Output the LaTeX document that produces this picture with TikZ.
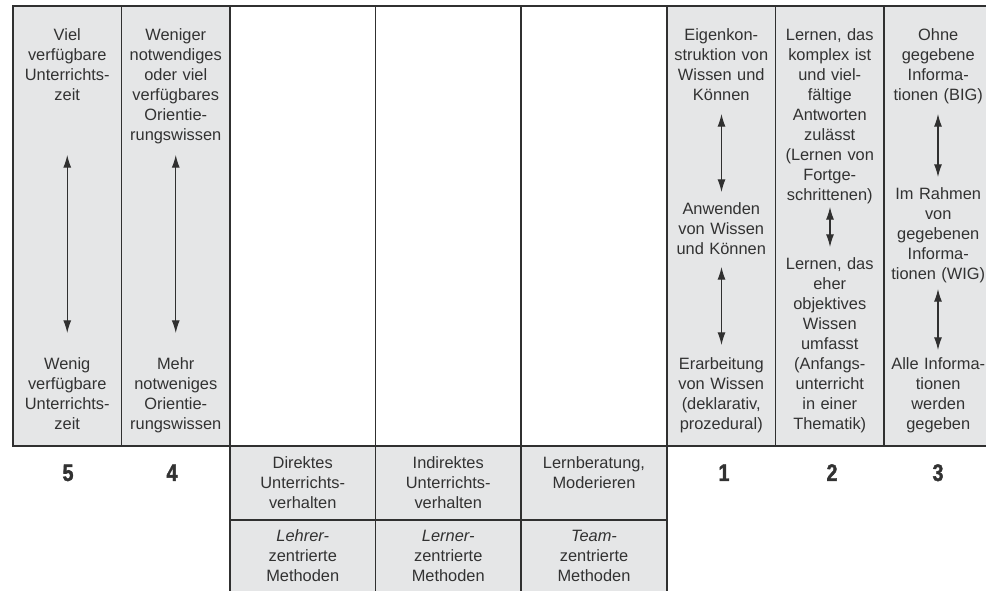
\documentclass[tikz,border=0pt]{standalone}
\usepackage{fontspec}
\setmainfont{Liberation Sans}
\newfontfamily\numfont{Liberation Sans}[FakeStretch=0.82,FakeBold=1.6]
\usetikzlibrary{arrows.meta}
\definecolor{cellgray}{HTML}{E5E6E7}
\definecolor{ink}{HTML}{303030}
\definecolor{txt}{HTML}{323232}

\begin{document}
\begin{tikzpicture}[x=0.75pt,y=-0.75pt,
  cell/.style={draw=ink,line width=1pt,fill=cellgray},
  blank/.style={draw=ink,line width=1pt},
  lbl/.style={anchor=base,inner sep=0pt,text width=78pt,align=center,
    font=\fontsize{12.3}{15}\selectfont,text=txt},
  num/.style={anchor=base,inner sep=0pt,
    font=\numfont\bfseries\fontsize{18}{20}\selectfont,text=txt},
  dbl/.style={{Latex[length=9.5pt,width=6pt]}-{Latex[length=9.5pt,width=6pt]},
    line width=0.85pt,draw=ink}
]
\useasboundingbox (0,0) rectangle (986,591);
\clip (0,0) rectangle (986,591);

% upper row: grey side blocks, white middle columns
\draw[cell] (13,6) rectangle (121.5,446);
\draw[cell] (121.5,6) rectangle (230,446);
\draw[blank] (230,6) rectangle (375.5,446);
\draw[blank] (375.5,6) rectangle (521,446);
\draw[blank] (521,6) rectangle (667,446);
\draw[cell] (667,6) rectangle (775.5,446);
\draw[cell] (775.5,6) rectangle (884,446);
\draw[cell] (884,6) rectangle (992.5,446);

% lower row: teaching behaviour and method boxes
\draw[cell] (230,446) rectangle (375.5,520);
\draw[cell] (375.5,446) rectangle (521,520);
\draw[cell] (521,446) rectangle (667,520);
\draw[cell] (230,520) rectangle (375.5,600);
\draw[cell] (375.5,520) rectangle (521,600);
\draw[cell] (521,520) rectangle (667,600);

% column 5
\node[lbl] (c5top) at (67.25,41) {Viel\\verfügbare\\Unterrichts-\\zeit};
\node[lbl] (c5bot) at (67.25,370) {Wenig\\verfügbare\\Unterrichts-\\zeit};
% column 4
\node[lbl] (c4top) at (175.75,41) {Weniger\\notwendiges\\oder viel\\verfügbares\\Orientie-\\rungswissen};
\node[lbl] (c4bot) at (175.75,370) {Mehr\\notweniges\\Orientie-\\rungswissen};
% column 1
\node[lbl] (c1top) at (721.25,41) {Eigenkon-\\struktion von\\Wissen und\\Können};
\node[lbl] (c1mid) at (721.25,215) {Anwenden\\von Wissen\\und Können};
\node[lbl] (c1bot) at (721.25,370) {Erarbeitung\\von Wissen\\(deklarativ,\\prozedural)};
% column 2
\node[lbl] (c2top) at (829.75,41) {Lernen, das\\komplex ist\\und viel-\\fältige\\Antworten\\zulässt\\(Lernen von\\Fortge-\\schrittenen)};
\node[lbl] (c2bot) at (829.75,270) {Lernen, das\\eher\\objektives\\Wissen\\umfasst\\(Anfangs-\\unterricht\\in einer\\Thematik)};
% column 3
\node[lbl] (c3top) at (938.25,41) {Ohne\\gegebene\\Informa-\\tionen (BIG)};
\node[lbl] (c3mid) at (938.25,200) {Im Rahmen\\von\\gegebenen\\Informa-\\tionen (WIG)};
\node[lbl] (c3bot) at (938.25,370) {Alle Informa-\\tionen\\werden\\gegeben};

% lower boxes
\node[lbl] (b1) at (302.75,469) {Direktes\\Unterrichts-\\verhalten};
\node[lbl] (b2) at (448.25,469) {Indirektes\\Unterrichts-\\verhalten};
\node[lbl] (b3) at (594,469) {Lernberatung,\\Moderieren};
\node[lbl] (m1) at (302.75,541.7) {\textit{Lehrer-}\\zentrierte\\Methoden};
\node[lbl] (m2) at (448.25,541.7) {\textit{Lerner-}\\zentrierte\\Methoden};
\node[lbl] (m3) at (594,541.7) {\textit{Team-}\\zentrierte\\Methoden};

% column numbers
\node[num] (n5) at (68,481) {5};
\node[num] (n4) at (172,481) {4};
\node[num] (n1) at (724,481) {1};
\node[num] (n2) at (832,481) {2};
\node[num] (n3) at (938,481) {3};

% arrow end points
\coordinate (a5u) at (67.25,155);   \coordinate (a5d) at (67.25,333);
\coordinate (a4u) at (175.75,155);  \coordinate (a4d) at (175.75,333);
\coordinate (a1u) at (721.5,114);   \coordinate (a1d) at (721.5,192);
\coordinate (a1U) at (721.5,267);   \coordinate (a1D) at (721.5,345);
\coordinate (a2u) at (830,207);     \coordinate (a2d) at (830,247);
\coordinate (a3u) at (938,114);     \coordinate (a3d) at (938,177);
\coordinate (a3U) at (938,289);     \coordinate (a3D) at (938,350);

\draw[dbl] (a5u) -- (a5d);
\draw[dbl] (a4u) -- (a4d);
\draw[dbl] (a1u) -- (a1d);
\draw[dbl] (a1U) -- (a1D);
\draw[dbl] (a2u) -- (a2d);
\draw[dbl] (a3u) -- (a3d);
\draw[dbl] (a3U) -- (a3D);
\end{tikzpicture}
\end{document}
